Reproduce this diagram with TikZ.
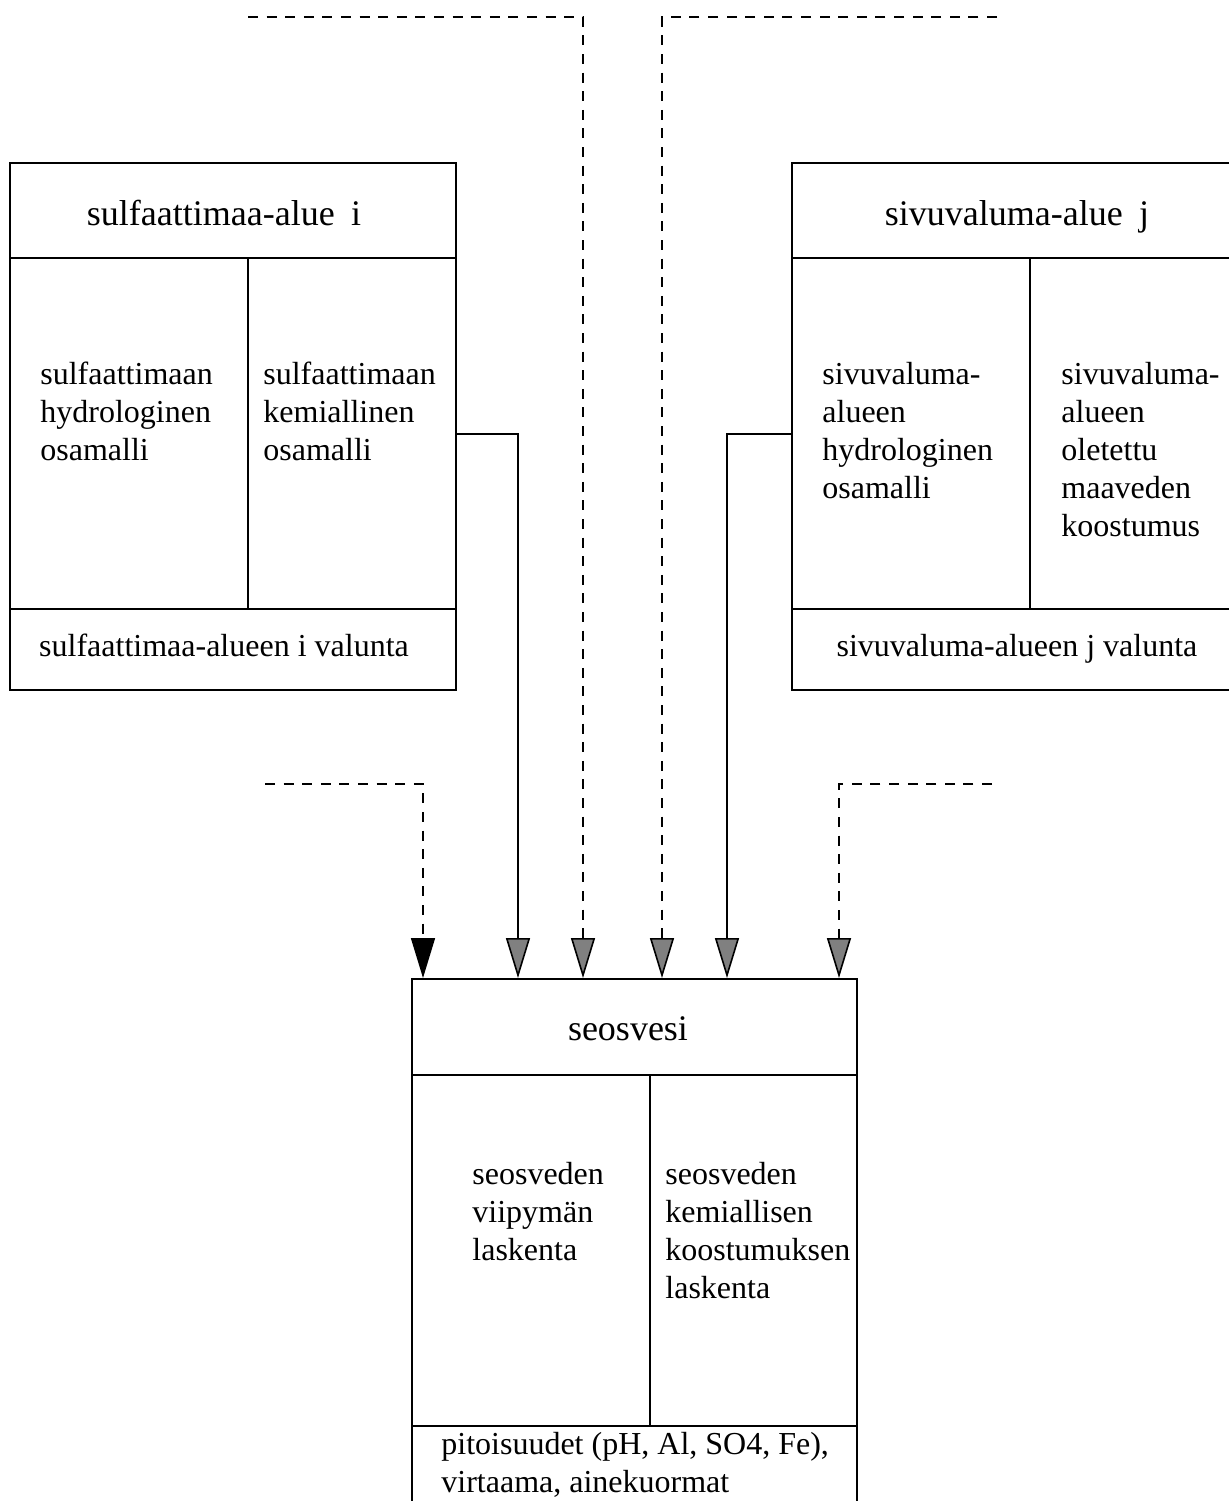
\documentclass[tikz,border=0pt]{standalone}
\usepackage{fontspec}
\setmainfont{Liberation Serif}
\usetikzlibrary{arrows.meta}
\begin{document}
\begin{tikzpicture}[x=0.5pt,y=-0.5pt,
  cell/.style={draw, line width=1pt, inner sep=0pt, anchor=north west},
  body/.style={anchor=north west, inner sep=0pt, align=left,
    font=\fontsize{16}{19}\selectfont},
  title/.style={anchor=base, inner sep=0pt, font=\fontsize{18}{21}\selectfont},
  foot/.style={anchor=base, inner sep=0pt, font=\fontsize{16}{19}\selectfont},
  link/.style={line width=1pt},
  dlink/.style={line width=1.3pt, dash pattern=on 5pt off 4.3pt},
  grayhead/.style={-{Triangle[width=12pt,length=20pt,line width=0.8pt,fill=gray]}},
  blackhead/.style={-{Triangle[width=12pt,length=20pt,line width=0.8pt]}}]

\fill[white] (0,0) rectangle (1229,1501);
\useasboundingbox (0,0) rectangle (1229,1501);

% sulfate soil area
\node[cell, minimum width=223pt, minimum height=47.5pt] (ltitle) at (9,162) {};
\node[cell, minimum width=119pt, minimum height=175.5pt] (lhyd) at (9,257) {};
\node[cell, minimum width=104pt, minimum height=175.5pt] (lchem) at (247,257) {};
\node[cell, minimum width=223pt, minimum height=40.5pt] (lout) at (9,608) {};
\node[title] at (224,225) {sulfaattimaa-alue\hspace{0.45em}i};
\node[body] at (40,357) {\strut sulfaattimaan\\hydrologinen\\osamalli};
\node[body] at (263,357) {\strut sulfaattimaan\\kemiallinen\\osamalli};
\node[foot] at (224,656) {sulfaattimaa-alueen i valunta};

% side runoff area
\node[cell, minimum width=224.5pt, minimum height=47.5pt] (rtitle) at (791,162) {};
\node[cell, minimum width=119pt, minimum height=175.5pt] (rhyd) at (791,257) {};
\node[cell, minimum width=105.5pt, minimum height=175.5pt] (rcomp) at (1029,257) {};
\node[cell, minimum width=224.5pt, minimum height=40.5pt] (rout) at (791,608) {};
\node[title] at (1017,225) {sivuvaluma-alue\hspace{0.45em}j};
\node[body] at (822,357) {\strut sivuvaluma-\\alueen\\hydrologinen\\osamalli};
\node[body] at (1061,357) {\strut sivuvaluma-\\alueen\\oletettu\\maaveden\\koostumus};
\node[foot] at (1017,656) {sivuvaluma-alueen j valunta};

% mixed water
\node[cell, minimum width=222.5pt, minimum height=48pt] (mtitle) at (411,978) {};
\node[cell, minimum width=119pt, minimum height=175.5pt] (mres) at (411,1074) {};
\node[cell, minimum width=103.5pt, minimum height=175.5pt] (mchem) at (649,1074) {};
\node[cell, minimum width=222.5pt, minimum height=52.5pt] (mout) at (411,1425) {};
\node[title] at (628,1040) {seosvesi};
\node[body] at (472,1157) {\strut seosveden\\viipymän\\laskenta};
\node[body] at (665,1157) {\strut seosveden\\kemiallisen\\koostumuksen\\laskenta};
\node[body] at (441,1427) {\strut pitoisuudet (pH, Al, SO4, Fe),\\virtaama, ainekuormat};

% inflows to the mixed water
\coordinate (s1) at (265,784);
\coordinate (t1) at (423,978);
\coordinate (t2) at (518,978);
\coordinate (s3) at (248,17);
\coordinate (t3) at (583,978);
\coordinate (s4) at (997,17);
\coordinate (t4) at (662,978);
\coordinate (t5) at (727,978);
\coordinate (s6) at (992,784);
\coordinate (t6) at (839,978);

\draw[dlink, blackhead] (s1) -| (t1);
\draw[link, grayhead] (lchem.east) -| (t2);
\draw[dlink, grayhead] (s3) -| (t3);
\draw[dlink, grayhead] (s4) -| (t4);
\draw[link, grayhead] (rhyd.west) -| (t5);
\draw[dlink, grayhead] (s6) -| (t6);
\end{tikzpicture}
\end{document}
